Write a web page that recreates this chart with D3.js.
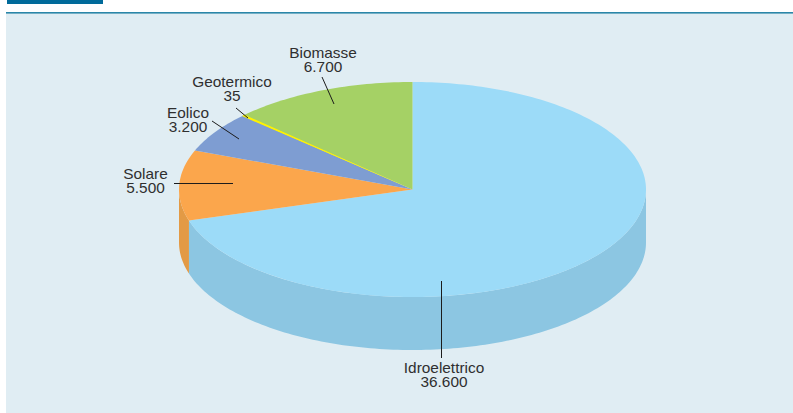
<!DOCTYPE html>
<html><head><meta charset="utf-8">
<script src="https://cdn.jsdelivr.net/npm/d3@7"></script>
<style>html,body{margin:0;padding:0;background:#fff}svg{display:block}text{font-family:"Liberation Sans",Arial,sans-serif;font-size:14px;fill:#2f2f2f;text-anchor:middle}</style>
</head><body><svg id="c" width="793" height="413"></svg>
<script>
const categories=["Idroelettrico","Solare","Eolico","Geotermico","Biomasse"];
const values=[36600,5500,3200,35,6700];
const valueLabels=["36.600","5.500","3.200","35","6.700"];
const topColors=["#9cdbf8","#fba64c","#7e9dd2","#fff200","#a5d165"];
const sideColors=["#8cc6e2","#e39a45","#6f8bbb","#e0d500","#90b858"];

const svg=d3.select("#c");
svg.append("rect").attr("x",6).attr("y",13).attr("width",787).attr("height",400).attr("fill","#e0edf3");
svg.append("rect").attr("x",6).attr("y",12).attr("width",787).attr("height",1.6).attr("fill","#2b86a8");
svg.append("rect").attr("x",7).attr("y",0).attr("width",96).attr("height",4).attr("fill","#006a9a");

const cx=412.5,cy=189.5,rx=233.5,ry=107.5,depth=53;
const px=d3.scaleLinear().domain([-1,1]).range([cx-rx,cx+rx]);
const py=d3.scaleLinear().domain([-1,1]).range([cy-ry,cy+ry]);
const pt=(a,r=1)=>[px(r*Math.sin(a)),py(-r*Math.cos(a))];
const arcs=d3.pie().sort(null)(values);
const line=d3.line();
const sweep=(a0,a1)=>{const n=Math.max(2,Math.ceil((a1-a0)/0.02));return d3.range(n+1).map(i=>a0+(a1-a0)*i/n);};

arcs.forEach((d,i)=>{
  const a0=Math.max(d.startAngle,Math.PI/2),a1=Math.min(d.endAngle,Math.PI*1.5);
  if(a1<=a0)return;
  const upper=sweep(a0,a1).map(a=>pt(a));
  const lower=upper.slice().reverse().map(p=>[p[0],p[1]+depth]);
  svg.append("path").attr("d",line(upper.concat(lower))+"Z").attr("fill",sideColors[i]);
});
arcs.forEach((d,i)=>{
  const pts=[[cx,cy]].concat(sweep(d.startAngle,d.endAngle).map(a=>pt(a)));
  svg.append("path").attr("d",line(pts)+"Z").attr("fill",topColors[i]);
});
// the very thin geothermal slice: widened towards the rim so it stays visible
{
  const d=arcs[3],m=(d.startAngle+d.endAngle)/2,w=0.008;
  svg.append("path").attr("d",line([[cx,cy],pt(m-w),pt(m+w)])+"Z").attr("fill",topColors[3]);
}

const labelLayout=[
 [441.5,281,441.5,358,444,373],
 [233,183.5,174,183.5,145.5,179],
 [239,139,212,121,188,118],
 [248,118,236,108,232,87.5],
 [334,104,322,77,323,58]
];
categories.forEach((c,i)=>{
  const l=labelLayout[i];
  svg.append("line").attr("x1",l[0]).attr("y1",l[1]).attr("x2",l[2]).attr("y2",l[3]).attr("stroke","#1c1c1c").attr("stroke-width",1);
  const t=svg.append("text").attr("transform",`translate(${l[4]},0) scale(1.1,1)`);
  t.append("tspan").attr("x",0).attr("y",l[5]).text(c);
  t.append("tspan").attr("x",0).attr("y",l[5]+13.6).text(valueLabels[i]);
});
</script></body></html>
